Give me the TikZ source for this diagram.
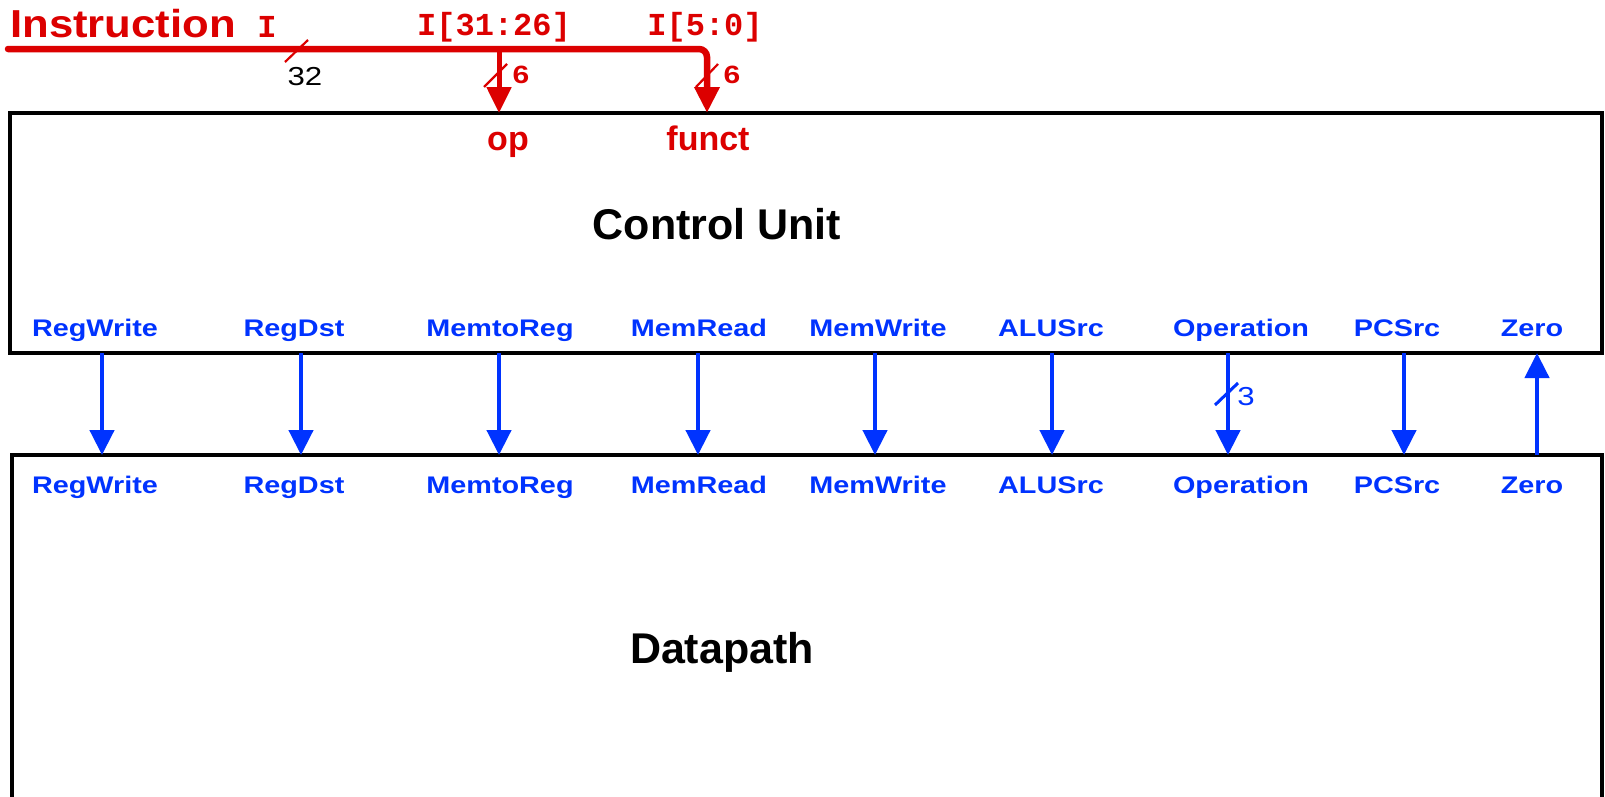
\documentclass[tikz,border=0pt]{standalone}
\usepackage{fontspec}
\setmainfont{Liberation Sans}
\newfontfamily\sigfont{Liberation Sans}[FakeStretch=1.2]
\newfontfamily\insfont{Liberation Sans}[FakeStretch=1.12]
\newfontfamily\mymono{Liberation Mono}
\usetikzlibrary{arrows.meta}
\definecolor{cred}{RGB}{220,0,0}
\definecolor{cblue}{RGB}{0,51,255}
\tikzset{
  box/.style={draw=black, line width=3.5pt, inner sep=0pt, outer sep=0pt},
  siglbl/.style={font=\sigfont\bfseries\fontsize{24}{24}\selectfont, text=cblue, inner sep=0pt, anchor=base},
  sigarrow/.style={draw=cblue, line width=4.5pt, -{Triangle[length=25pt,width=24pt]}},
  bigtitle/.style={font=\bfseries\fontsize{43}{43}\selectfont, inner sep=0pt, anchor=base},
  redlbl/.style={font=\bfseries\fontsize{34}{34}\selectfont, text=cred, inner sep=0pt, anchor=base},
  monolbl/.style={font=\mymono\bfseries\fontsize{32}{32}\selectfont, text=cred, inner sep=0pt, anchor=base},
  widthlbl/.style={font=\sigfont\bfseries\fontsize{25}{25}\selectfont, text=cred, inner sep=0pt, anchor=base},
  redbus/.style={draw=cred, line width=6.5pt, -{Triangle[length=26pt,width=24pt]}},
  slashred/.style={draw=cred, line width=2.2pt},
  slashblue/.style={draw=cblue, line width=3pt},
}
\begin{document}
\begin{tikzpicture}[x=1pt,y=-1pt]
\useasboundingbox (0,0) rectangle (1605,796);
\clip (0,0) rectangle (1605,796);
\fill[white] (0,0) rectangle (1605,796);

% boxes
\node[box, minimum width=1592pt, minimum height=240pt] (cu) at (806,233) {};
\node[box, minimum width=1590pt, minimum height=445pt] (dp) at (807,677.5) {};
\node[bigtitle] (cutitle) at (717,239) {Control Unit};
\node[bigtitle] (dptitle) at (722,663) {Datapath};

% instruction bus
\node[font=\insfont\bfseries\fontsize{39}{39}\selectfont, text=cred, inner sep=0pt, anchor=base west] (instr) at (10,37) {Instruction};
\node[monolbl] (instrI) at (267,37) {I};
\node[monolbl] (hiBits) at (494,35) {I[31:26]};
\node[monolbl] (loBits) at (705,35) {I[5:0]};
\coordinate (istart) at (8,49);
\coordinate (opx) at (499,49);
\coordinate (fx) at (707,49);
\draw[redbus, line cap=round, rounded corners=8pt] (istart) -- (fx) -- (cu.north -| fx);
\draw[redbus, line width=5pt] (opx) -- (cu.north -| opx);
\draw[slashred] (285,62) -- (308,40);
\node[font=\sigfont\fontsize{26}{26}\selectfont, inner sep=0pt, anchor=base] (w32) at (305,85) {32};
\draw[slashred] (484,87) -- (507,64);
\node[widthlbl] (w6a) at (521,83) {6};
\draw[slashred] (696,87) -- (718,64);
\node[widthlbl] (w6b) at (732,83) {6};
\node[redlbl] (op) at (508,150) {op};
\node[redlbl] (funct) at (708,150) {funct};

% control signals
\foreach \n/\t/\lx/\ax in {a/RegWrite/95/102, b/RegDst/294/301, c/MemtoReg/500/499,
  d/MemRead/699/698, e/MemWrite/878/875, f/ALUSrc/1051/1052,
  g/Operation/1241/1228, h/PCSrc/1397/1404, i/Zero/1532/1537}{
  \node[siglbl] (cu\n) at (\lx,336) {\t};
  \node[siglbl] (dp\n) at (\lx,493) {\t};
  \coordinate (x\n) at (\ax,400);
}
\foreach \n in {a,b,c,d,e,f,g,h}{
  \draw[sigarrow] (cu.south -| x\n) -- (dp.north -| x\n);
}
\draw[sigarrow] (dp.north -| xi) -- (cu.south -| xi);
\draw[slashblue] (1215,405) -- (1238,383);
\node[font=\sigfont\fontsize{26}{26}\selectfont, text=cblue, inner sep=0pt, anchor=base] (w3) at (1246,405) {3};
\end{tikzpicture}
\end{document}
